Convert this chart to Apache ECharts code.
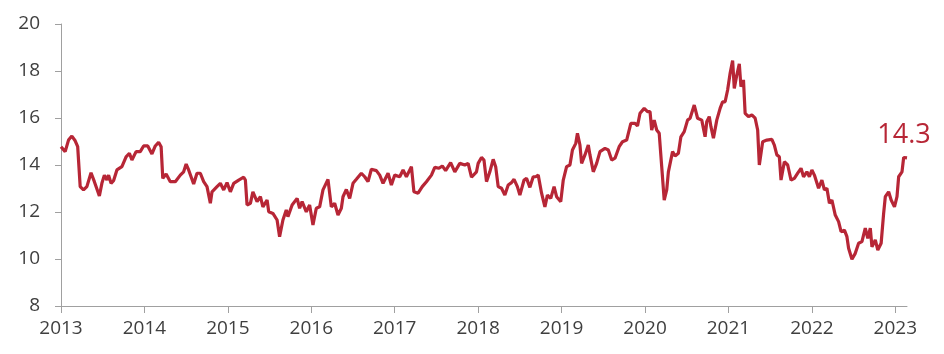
<!DOCTYPE html>
<html>
<head>
<meta charset="utf-8">
<script src="https://cdn.jsdelivr.net/npm/echarts@6/dist/echarts.min.js"></script>
<style>
  html, body { margin: 0; padding: 0; background: #fff; }
  #chart { width: 944px; height: 354px; }
</style>
</head>
<body>
<div id="chart"></div>
<script>
// time in decimal years
const dates = [
  2013.00, 2013.05, 2013.09, 2013.13, 2013.17, 2013.20, 2013.23, 2013.27, 2013.31, 2013.36,
  2013.40, 2013.46, 2013.49, 2013.52, 2013.55, 2013.57, 2013.60, 2013.63, 2013.67, 2013.73,
  2013.78, 2013.82, 2013.85, 2013.90, 2013.95, 2013.99, 2014.04, 2014.09, 2014.13, 2014.17,
  2014.20, 2014.22, 2014.26, 2014.31, 2014.37, 2014.43, 2014.47, 2014.50, 2014.53, 2014.59,
  2014.63, 2014.67, 2014.71, 2014.75, 2014.79, 2014.81, 2014.87, 2014.91, 2014.95, 2014.99,
  2015.03, 2015.07, 2015.13, 2015.19, 2015.21, 2015.23, 2015.27, 2015.30, 2015.35, 2015.39,
  2015.42, 2015.47, 2015.49, 2015.54, 2015.59, 2015.62, 2015.66, 2015.70, 2015.72, 2015.77,
  2015.83, 2015.86, 2015.89, 2015.94, 2015.98, 2016.02, 2016.06, 2016.10, 2016.14, 2016.20,
  2016.24, 2016.28, 2016.32, 2016.36, 2016.38, 2016.42, 2016.46, 2016.50, 2016.54, 2016.60,
  2016.64, 2016.68, 2016.72, 2016.78, 2016.82, 2016.86, 2016.92, 2016.96, 2017.00, 2017.06,
  2017.10, 2017.14, 2017.20, 2017.23, 2017.28, 2017.33, 2017.38, 2017.44, 2017.48, 2017.53,
  2017.57, 2017.61, 2017.67, 2017.72, 2017.78, 2017.84, 2017.88, 2017.92, 2017.98, 2018.00,
  2018.04, 2018.07, 2018.10, 2018.14, 2018.18, 2018.21, 2018.24, 2018.28, 2018.32, 2018.36,
  2018.40, 2018.43, 2018.47, 2018.50, 2018.55, 2018.58, 2018.62, 2018.66, 2018.69, 2018.72,
  2018.76, 2018.80, 2018.83, 2018.87, 2018.91, 2018.94, 2018.99, 2019.02, 2019.06, 2019.10,
  2019.13, 2019.17, 2019.19, 2019.22, 2019.24, 2019.28, 2019.32, 2019.34, 2019.38, 2019.42,
  2019.46, 2019.52, 2019.56, 2019.60, 2019.64, 2019.69, 2019.73, 2019.78, 2019.83, 2019.88,
  2019.91, 2019.94, 2019.99, 2020.03, 2020.06, 2020.08, 2020.11, 2020.14, 2020.17, 2020.20,
  2020.23, 2020.26, 2020.28, 2020.30, 2020.33, 2020.36, 2020.40, 2020.43, 2020.47, 2020.51,
  2020.54, 2020.59, 2020.63, 2020.68, 2020.72, 2020.74, 2020.77, 2020.79, 2020.82, 2020.86,
  2020.90, 2020.93, 2020.96, 2020.99, 2021.02, 2021.05, 2021.07, 2021.10, 2021.13, 2021.15,
  2021.18, 2021.20, 2021.24, 2021.28, 2021.32, 2021.35, 2021.37, 2021.41, 2021.46, 2021.52,
  2021.55, 2021.58, 2021.61, 2021.63, 2021.67, 2021.71, 2021.75, 2021.79, 2021.83, 2021.87,
  2021.90, 2021.94, 2021.97, 2022.00, 2022.03, 2022.08, 2022.12, 2022.15, 2022.18, 2022.21,
  2022.24, 2022.28, 2022.32, 2022.35, 2022.39, 2022.42, 2022.44, 2022.48, 2022.52, 2022.56,
  2022.60, 2022.64, 2022.67, 2022.70, 2022.72, 2022.76, 2022.79, 2022.83, 2022.86, 2022.88,
  2022.92, 2022.95, 2022.99, 2023.02, 2023.04, 2023.08, 2023.10, 2023.12, 2023.14
];

const values = [
  14.78, 14.57, 15.06, 15.23, 15.03, 14.78, 13.08, 12.94, 13.08, 13.67,
  13.29, 12.68, 13.22, 13.57, 13.36, 13.57, 13.22, 13.33, 13.79, 13.93,
  14.35, 14.50, 14.21, 14.57, 14.57, 14.81, 14.81, 14.47, 14.81, 14.97,
  14.78, 13.43, 13.62, 13.29, 13.29, 13.57, 13.71, 14.04, 13.79, 13.19,
  13.65, 13.65, 13.29, 13.08, 12.37, 12.86, 13.08, 13.22, 12.94, 13.25,
  12.86, 13.22, 13.36, 13.48, 13.36, 12.30, 12.37, 12.86, 12.44, 12.65,
  12.22, 12.51, 12.01, 11.94, 11.66, 10.95, 11.66, 12.09, 11.80, 12.30,
  12.58, 12.16, 12.44, 12.01, 12.30, 11.45, 12.16, 12.22, 12.94, 13.39,
  12.22, 12.37, 11.87, 12.16, 12.65, 12.96, 12.58, 13.22, 13.39, 13.65,
  13.50, 13.29, 13.82, 13.76, 13.57, 13.22, 13.65, 13.15, 13.57, 13.50,
  13.79, 13.50, 13.93, 12.86, 12.80, 13.08, 13.29, 13.57, 13.90, 13.86,
  13.96, 13.76, 14.10, 13.71, 14.07, 14.00, 14.07, 13.48, 13.71, 14.07,
  14.32, 14.21, 13.29, 13.71, 14.24, 13.93, 13.08, 13.01, 12.72, 13.15,
  13.25, 13.39, 13.08, 12.72, 13.36, 13.43, 13.05, 13.50, 13.50, 13.57,
  12.80, 12.22, 12.72, 12.58, 13.08, 12.65, 12.44, 13.36, 13.93, 14.00,
  14.64, 14.92, 15.35, 14.85, 14.07, 14.43, 14.85, 14.43, 13.71, 14.07,
  14.57, 14.71, 14.64, 14.21, 14.29, 14.78, 14.99, 15.06, 15.77, 15.77,
  15.66, 16.20, 16.41, 16.27, 16.27, 15.49, 15.91, 15.49, 15.35, 13.93,
  12.51, 12.94, 13.71, 13.71, 14.57, 14.38, 14.50, 15.20, 15.42, 15.91,
  15.99, 16.55, 15.99, 15.91, 15.20, 15.84, 16.06, 15.63, 15.14, 15.91,
  16.41, 16.69, 16.69, 17.19, 17.90, 18.44, 17.26, 17.83, 18.30, 17.33,
  17.62, 16.20, 16.06, 16.13, 15.99, 15.49, 14.00, 14.99, 15.06, 15.09,
  14.85, 14.43, 14.35, 13.36, 14.14, 14.00, 13.36, 13.43, 13.65, 13.86,
  13.50, 13.71, 13.50, 13.79, 13.57, 13.01, 13.36, 12.94, 13.01, 12.37,
  12.51, 11.87, 11.59, 11.16, 11.23, 10.95, 10.46, 9.99, 10.24, 10.67,
  10.74, 11.31, 10.88, 11.31, 10.52, 10.81, 10.38, 10.67, 11.94, 12.65,
  12.86, 12.51, 12.22, 12.65, 13.50, 13.71, 14.32, 14.32, 14.30
];

const yearTicks = [2013, 2014, 2015, 2016, 2017, 2018, 2019, 2020, 2021, 2022, 2023];
const lastLabel = '14.3';

const lineColor = '#B72636';
const textColor = '#3F3F3F';
const axisColor = '#A0A0A0';

const chart = echarts.init(document.getElementById('chart'));

const seriesData = dates.map((d, i) => [d, values[i]]);
const last = seriesData[seriesData.length - 1];

chart.setOption({
  animation: false,
  grid: { left: 61, right: 37, top: 24, bottom: 48 },
  xAxis: {
    type: 'value',
    min: 2013,
    max: 2023.14,
    interval: 1,
    axisLine: { show: true, lineStyle: { color: axisColor, width: 1 } },
    axisTick: { show: true, length: 7, lineStyle: { color: axisColor }, customValues: yearTicks },
    axisLabel: {
      customValues: yearTicks,
      color: textColor,
      fontSize: 19,
      fontFamily: 'Open Sans',
      margin: 13,
      formatter: v => String(Math.round(v))
    },
    splitLine: { show: false }
  },
  yAxis: {
    type: 'value',
    min: 8,
    max: 20,
    interval: 2,
    axisLine: { show: true, lineStyle: { color: axisColor, width: 1 } },
    axisTick: { show: true, length: 6, lineStyle: { color: axisColor } },
    axisLabel: {
      color: textColor,
      fontSize: 19,
      fontFamily: 'Open Sans',
      margin: 21
    },
    splitLine: { show: false }
  },
  series: [{
    type: 'line',
    data: seriesData,
    showSymbol: false,
    symbol: 'none',
    lineStyle: { color: lineColor, width: 3.2 },
    itemStyle: { color: lineColor },
    // 末端数值标注
    markPoint: {
      symbol: 'circle',
      symbolSize: 1,
      itemStyle: { color: 'rgba(0,0,0,0)' },
      label: {
        show: true,
        position: 'top',
        distance: 9,
        offset: [-3, 0],
        formatter: lastLabel,
        color: lineColor,
        fontSize: 27,
        fontFamily: 'Open Sans'
      },
      data: [{ coord: last }]
    }
  }]
});
</script>
</body>
</html>
